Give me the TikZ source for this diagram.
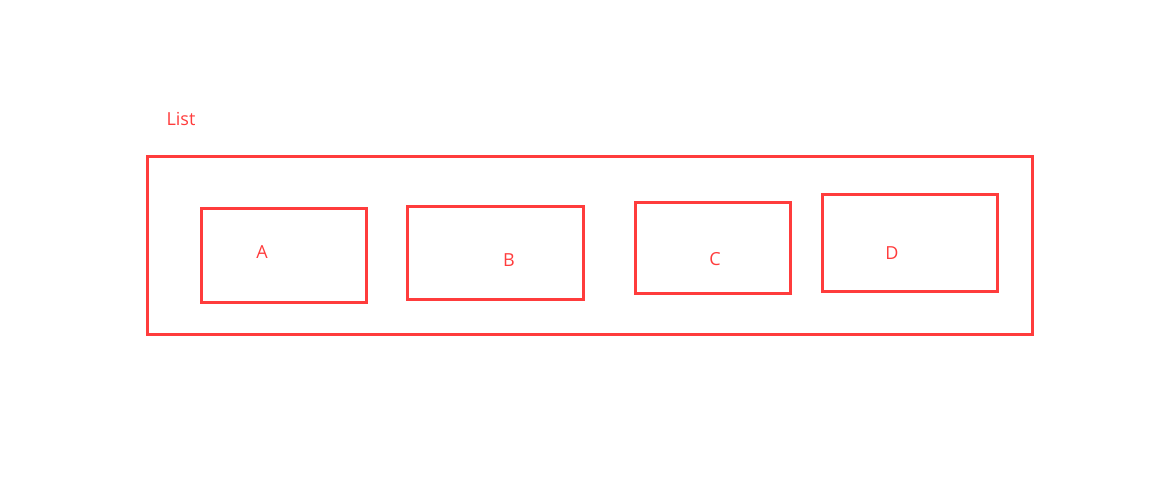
\documentclass[tikz,border=0pt]{standalone}
\usepackage{fontspec}
\setmainfont{Open Sans}
\usepackage{xcolor}
\usepackage{tikz}
\usetikzlibrary{positioning}
\definecolor{listred}{HTML}{FF3C3C}

\begin{document}
\begin{tikzpicture}[x=1pt, y=-1pt, listbox/.style={rectangle, draw=listred, line width=3pt, inner sep=0pt}, itembox/.style={rectangle, draw=listred, line width=3pt, inner sep=0pt}, itemlabel/.style={text=listred, inner sep=0pt}]

\tikzstyle{every node}=[font=\fontsize{18}{21}\selectfont]

\useasboundingbox (0,0) rectangle (1164,501);

%Nodes
\node[itemlabel]      (listlbl)  at (181,119) {List};
\node[listbox, minimum width=885pt, minimum height=178pt]      (list)  at (589.5,245) {};
\node[itembox, minimum width=165pt, minimum height=94pt]      (boxa)  at (283.5,255) {};
\node[itembox, minimum width=176pt, minimum height=93pt]      (boxb)  at (495,252.5) {};
\node[itembox, minimum width=155pt, minimum height=91pt]      (boxc)  at (712.5,247.5) {};
\node[itembox, minimum width=175pt, minimum height=97pt]      (boxd)  at (909.5,242.5) {};
\node[itemlabel]      (lbla)  at (262,252) {A};
\node[itemlabel]      (lblb)  at (509,260) {B};
\node[itemlabel]      (lblc)  at (715,259) {C};
\node[itemlabel]      (lbld)  at (892,253) {D};

\end{tikzpicture}
\end{document}
